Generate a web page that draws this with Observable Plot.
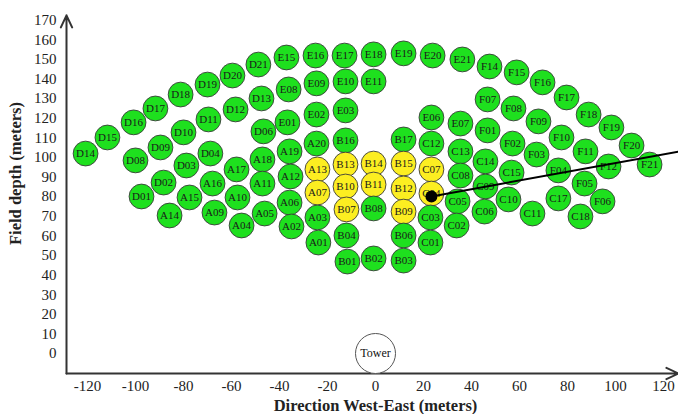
<!DOCTYPE html>
<html>
<head>
<meta charset="utf-8">
<script src="https://cdn.jsdelivr.net/npm/d3@7"></script>
<script src="https://cdn.jsdelivr.net/npm/@observablehq/plot@0.6"></script>
<style>
  html, body { margin: 0; padding: 0; background: #fff; }
  #chart svg { display: block; }
</style>
</head>
<body>
<div id="chart"></div>
<script>
// Heliostat labels, East-West position (m) and field depth (m)
const labels = [
  "D14","D15","D16","D17","D18","D19","D20","D21","E15","E16","E17","E18","E19","E20","E21",
  "F14","F15","F16","F17","F18","F19","F20","F21",
  "D08","D09","D10","D11","D12","D13","E08","E09","E10","E11",
  "D03","D04","D06","E01","E02","E03","E06","E07",
  "F07","F08","F09","F10","F11","F12","F01","F02","F03","F04","F05","F06",
  "D02","D01","A15","A16","A14","A09","A17","A10","A04","A18","A11","A05",
  "A19","A12","A06","A02","A20","A13","A07","A03","A01",
  "B16","B13","B10","B07","B04","B01","B14","B11","B08","B02",
  "B17","B15","B12","B09","B06","B03",
  "C12","C07","C04","C03","C01","C13","C08","C05","C02",
  "C14","C09","C06","C15","C10","C11","C17","C18"
];
const east = [
  -120.8,-111.7,-100.8,-91.7,-81.2,-70,-59.6,-48.8,-37.1,-25,-12.9,-0.8,11.7,23.8,36.2,
  47.5,58.8,69.6,79.6,88.8,98.3,106.7,114.2,
  -100,-89.6,-80,-69.6,-58.3,-47.5,-36.2,-24.6,-12.5,-0.8,
  -78.8,-68.8,-46.7,-36.7,-24.6,-12.5,23.3,35.4,
  46.7,57.5,67.9,77.5,87.5,97.1,46.7,57.1,67.1,76.2,87.1,94.6,
  -88.3,-97.5,-77.5,-67.9,-85.8,-67.1,-57.9,-57.5,-55.8,-47.1,-47.1,-46.2,
  -35.8,-35.4,-35.8,-35,-24.6,-24.2,-24.2,-24.2,-23.8,
  -12.5,-12.5,-12.5,-12.1,-12.1,-11.7,-0.8,-0.8,-0.8,-0.8,
  11.7,11.7,11.7,11.7,11.7,11.7,
  23.3,23.3,23.3,22.9,22.9,35.4,35.4,34.2,33.8,
  45.8,45.8,45.4,56.7,55.4,65.4,76.2,85.4
];
const depth = [
  102,110.2,117.9,125,132.1,137.2,141.8,147.4,151,152,152,152.6,153.1,152,150,
  146.4,143.4,138.3,130.6,121.9,115.3,106.1,96.4,
  98.5,105.1,112.8,119.4,124.5,130.1,134.7,137.8,138.8,138.8,
  95.9,102,113.3,117.9,121.9,124,120.4,117.3,
  129.6,125,118.4,110.2,103.1,95.4,113.8,107.1,101.5,93.4,86.7,77.6,
  87.2,80.1,79.6,86.7,70.4,71.9,93.9,79.6,65.3,99,86.7,71.4,
  103.1,90.3,77,64.8,107.1,93.9,82.1,69.4,56.6,
  108.7,96.4,85.2,73.5,60.2,46.9,96.9,86.2,74,48.5,
  109.2,96.9,84.2,72.4,60.2,47.4,
  107.1,93.9,81.6,69.4,56.6,103.1,90.8,77.6,65.3,
  98,85.2,72.4,92.3,78.6,71.4,79.1,69.9
];
// Highlighted (yellow) heliostats
const selected = ["A13","A07","B13","B10","B07","B14","B11","B15","B12","B09","C07","C04"];

// Tower position
const towerLabel = ["Tower"];
const towerEast = [0];
const towerDepth = [0];

// Reflected ray: from target heliostat (C04) towards the east edge
const rayEast = [23.3, 126.2];
const rayDepth = [80.1, 103];

// Axis ticks
const xTicks = [-120,-100,-80,-60,-40,-20,0,20,40,60,80,100,120];
const yTicks = [0,10,20,30,40,50,60,70,80,90,100,110,120,130,140,150,160,170];

const xDomain = [-128.75, 126.25];
const yDomain = [-10.2, 171.4];

const helio = labels.map((l, i) => ({label: l, x: east[i], y: depth[i], sel: selected.includes(l)}));
const tower = towerLabel.map((l, i) => ({label: l, x: towerEast[i], y: towerDepth[i]}));
const ray = rayEast.map((x, i) => ({x, y: rayDepth[i]}));

const serif = "'Liberation Serif', 'DejaVu Serif', serif";
const fmt = d => String(d);

const chart = Plot.plot({
  width: 678,
  height: 414,
  marginLeft: 66,
  marginRight: 0,
  marginTop: 17,
  marginBottom: 41,
  style: {fontFamily: serif, background: "#fff", overflow: "visible"},
  x: {domain: xDomain},
  y: {domain: yDomain},
  marks: [
    Plot.axisX({ticks: xTicks, tickFormat: fmt, tickSize: 0, tickPadding: 7, fontSize: 15, label: null, fill: "#222"}),
    Plot.axisY({ticks: yTicks, tickFormat: fmt, tickSize: 0, tickPadding: 10, fontSize: 15, label: null, fill: "#222"}),
    // axis lines with arrowheads
    Plot.arrow([0], {x1: xDomain[0], y1: yDomain[0], x2: xDomain[1], y2: yDomain[0],
      stroke: "#333", strokeWidth: 2, headLength: 10, headAngle: 50}),
    Plot.arrow([0], {x1: xDomain[0], y1: yDomain[0], x2: xDomain[0], y2: 172.5,
      stroke: "#333", strokeWidth: 2, headLength: 10, headAngle: 50}),
    // tower
    Plot.dot(tower, {x: "x", y: "y", r: 20, fill: "#fff", stroke: "#555", strokeWidth: 1}),
    Plot.text(tower, {x: "x", y: "y", text: "label", fontSize: 12, fill: "#111"}),
    // heliostats
    Plot.dot(helio, {x: "x", y: "y", r: 12.4, fill: d => d.sel ? "#fcee21" : "#1ee01e",
      stroke: "#3a3a3a", strokeWidth: 0.9}),
    Plot.text(helio, {x: "x", y: "y", text: "label", fontSize: 11, fill: "#1a1a1a"}),
    // reflected ray and target point
    Plot.line(ray, {x: "x", y: "y", stroke: "#000", strokeWidth: 2}),
    Plot.dot([ray[0]], {x: "x", y: "y", r: 6, fill: "#000"}),
    // axis titles
    Plot.text(["Direction West-East (meters)"], {frameAnchor: "bottom", lineAnchor: "middle",
      textAnchor: "middle", dx: 3, dy: 32, fontSize: 16.5, fontWeight: "bold", fill: "#222"}),
    Plot.text(["Field depth (meters)"], {frameAnchor: "left", lineAnchor: "middle", textAnchor: "middle",
      dx: -51, dy: -22, rotate: -90, fontSize: 16.5, fontWeight: "bold", fill: "#222"})
  ]
});

document.getElementById("chart").appendChild(chart);
</script>
</body>
</html>
